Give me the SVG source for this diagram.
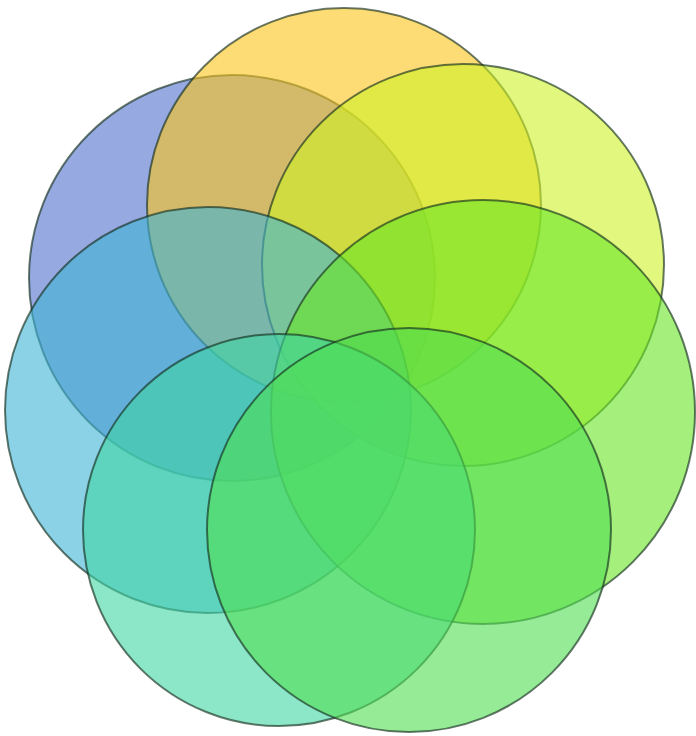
<svg xmlns="http://www.w3.org/2000/svg" width="696" height="736" viewBox="0 0 696 736">
<style>
.c{fill-opacity:0.6;stroke:#15301e;stroke-opacity:0.65;stroke-width:2}
</style>
<rect width="696" height="736" fill="#ffffff"/>
<g id="blue"><circle class="c" cx="232" cy="278" r="203" fill="#5071cd"/></g>
<g id="orange"><circle class="c" cx="344" cy="205" r="197" fill="#fbc41a"/></g>
<g id="yellowgreen"><circle class="c" cx="463" cy="265" r="201" fill="#cdf226"/></g>
<g id="cyan"><circle class="c" cx="208" cy="410" r="203" fill="#3fb4d5"/></g>
<g id="lightgreen"><circle class="c" cx="483" cy="412" r="212" fill="#69e626"/></g>
<g id="teal"><circle class="c" cx="279" cy="530" r="196" fill="#3fd5a3"/></g>
<g id="green"><circle class="c" cx="409" cy="530" r="202" fill="#50de50"/></g>
</svg>
